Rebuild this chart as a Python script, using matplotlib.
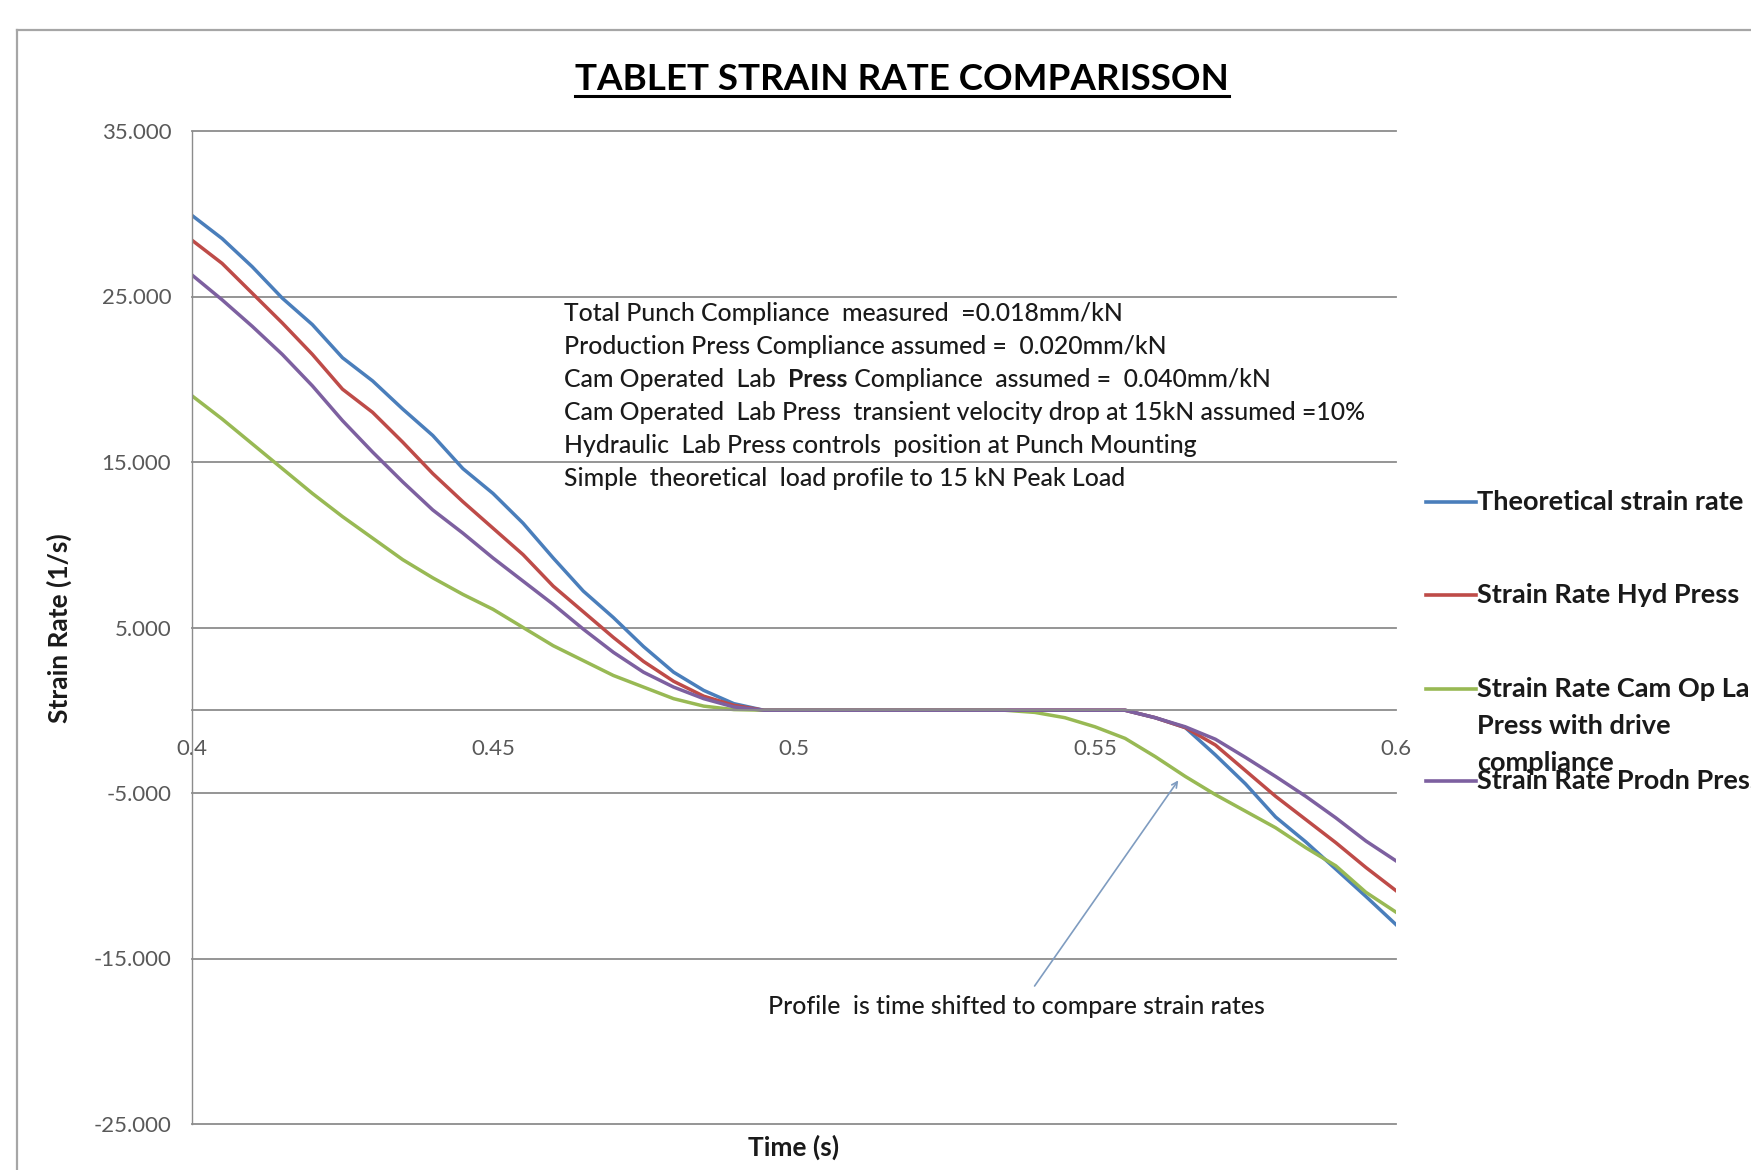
import matplotlib
matplotlib.use("Agg")
import matplotlib.pyplot as plt
from matplotlib.lines import Line2D

plt.rcParams['font.family'] = ['Lato', 'DejaVu Sans']

# ---- data ----
time = [0.400, 0.405, 0.410, 0.415, 0.420, 0.425, 0.430, 0.435, 0.440, 0.445,
        0.450, 0.455, 0.460, 0.465, 0.470, 0.475, 0.480, 0.485, 0.490, 0.495,
        0.500, 0.505, 0.510, 0.515, 0.520, 0.525, 0.530, 0.535, 0.540, 0.545,
        0.550, 0.555, 0.560, 0.565, 0.570, 0.575, 0.580, 0.585, 0.590, 0.595,
        0.600]

theoretical = [29.9, 28.5, 26.8, 24.9, 23.3, 21.3, 19.9, 18.2, 16.6, 14.6,
               13.1, 11.3, 9.2, 7.2, 5.6, 3.85, 2.3, 1.2, 0.4, 0.0,
               0.0, 0.0, 0.0, 0.0, 0.0, 0.0, 0.0, 0.0, 0.0, 0.0,
               0.0, 0.0, -0.45, -1.05, -2.7, -4.45, -6.45, -7.95, -9.6, -11.25,
               -12.95]
hyd_press = [28.4, 27.0, 25.2, 23.4, 21.5, 19.4, 18.0, 16.2, 14.3, 12.6,
             11.0, 9.4, 7.5, 5.95, 4.4, 2.95, 1.75, 0.85, 0.3, 0.0,
             0.0, 0.0, 0.0, 0.0, 0.0, 0.0, 0.0, 0.0, 0.0, 0.0,
             0.0, 0.0, -0.45, -1.05, -2.1, -3.65, -5.2, -6.6, -8.0, -9.5,
             -10.9]
cam_press = [19.0, 17.6, 16.1, 14.6, 13.1, 11.7, 10.4, 9.1, 8.0, 7.0,
             6.1, 5.0, 3.9, 3.0, 2.1, 1.4, 0.7, 0.25, 0.04, 0.0,
             0.0, 0.0, 0.0, 0.0, 0.0, 0.0, 0.0, 0.0, -0.13, -0.45,
             -1.0, -1.7, -2.8, -4.0, -5.1, -6.1, -7.1, -8.3, -9.4, -11.0,
             -12.2]
prodn_press = [26.3, 24.8, 23.2, 21.5, 19.6, 17.5, 15.6, 13.8, 12.1, 10.7,
               9.2, 7.8, 6.4, 4.9, 3.5, 2.3, 1.4, 0.7, 0.2, 0.0,
               0.0, 0.0, 0.0, 0.0, 0.0, 0.0, 0.0, 0.0, 0.0, 0.0,
               0.0, 0.0, -0.45, -1.0, -1.75, -2.85, -4.0, -5.2, -6.5, -7.9,
               -9.1]

series = [theoretical, hyd_press, cam_press, prodn_press]
labels = ["Theoretical strain rate",
          "Strain Rate Hyd Press",
          "Strain Rate Cam Op Lab\nPress with drive\ncompliance",
          "Strain Rate Prodn Press"]
colors = ["#4a7ebb", "#be4b48", "#98b954", "#7d60a0"]

xticks = [0.4, 0.45, 0.5, 0.55, 0.6]
xticklabels = ["0.4", "0.45", "0.5", "0.55", "0.6"]
yticks = [-25, -15, -5, 5, 15, 25, 35]
yticklabels = ["-25.000", "-15.000", "-5.000", "5.000", "15.000", "25.000", "35.000"]

notes = ["Total Punch Compliance  measured  =0.018mm/kN",
         "Production Press Compliance assumed =  0.020mm/kN",
         None,  # line with bold word, drawn in pieces
         "Cam Operated  Lab Press  transient velocity drop at 15kN assumed =10%",
         "Hydraulic  Lab Press controls  position at Punch Mounting",
         "Simple  theoretical  load profile to 15 kN Peak Load"]

W, H = 1751, 1170
fig = plt.figure(figsize=(W / 100, H / 100), dpi=100)
fig.patch.set_facecolor("white")

ax = fig.add_axes([192 / W, 1 - 1124 / H, (1396 - 192) / W, (1124 - 131) / H])
for s, c in zip(series, colors):
    ax.plot(time, s, color=c, lw=2.5, solid_joinstyle="round")

ax.set_xlim(0.4, 0.6)
ax.set_ylim(-25, 35)
ax.set_yticks(yticks)
ax.set_yticklabels(yticklabels)
ax.set_xticks(xticks)
ax.set_xticklabels(xticklabels)

grey = "#8c8c8c"
ax.yaxis.grid(True, color=grey, lw=1.3)
for gl in ax.get_ygridlines():
    gl.set_clip_on(False)
ax.xaxis.grid(False)
for side in ["top", "right"]:
    ax.spines[side].set_visible(False)
ax.spines["bottom"].set_position(("data", 0))
ax.spines["bottom"].set_color(grey)
ax.spines["bottom"].set_linewidth(1.3)
ax.spines["left"].set_color(grey)
ax.spines["left"].set_linewidth(1.0)
ax.tick_params(axis="both", length=0, labelcolor="#595959", labelsize=16)
ax.tick_params(axis="y", pad=15)
ax.tick_params(axis="x", pad=21)

txt_col = "#1a1a1a"

# axis titles
fig.text(59 / W, 1 - 628 / H, "Strain Rate (1/s)", rotation=90, ha="center", va="center",
         fontsize=19, fontweight="bold", color=txt_col)
fig.text(794 / W, 1 - 1147 / H, "Time (s)", ha="center", va="center",
         fontsize=19, fontweight="bold", color=txt_col)

# chart title, underlined
title = fig.text(902 / W, 1 - 90 / H, "TABLET STRAIN RATE COMPARISSON", ha="center",
                 va="baseline", fontsize=26.5, fontweight="bold", color="black")
fig.canvas.draw()
bb = title.get_window_extent()
fig.add_artist(Line2D([bb.x0 / W, bb.x1 / W], [1 - 96 / H, 1 - 96 / H], color="black", lw=2.2))

# outer chart border
fig.add_artist(Line2D([17 / W, 1.0], [1 - 30 / H, 1 - 30 / H], color="#a6a6a6", lw=1.6))
fig.add_artist(Line2D([17 / W, 17 / W], [0.0, 1 - 30 / H], color="#a6a6a6", lw=1.6))

# notes block
nfs = 17.8
note_kw = dict(fontsize=nfs, color=txt_col, va="center", ha="left", fontweight="medium")
x0 = 0.4618
ys = [24.0, 22.0, 20.0, 18.0, 16.0, 14.0]
for line, y in zip(notes, ys):
    if line is not None:
        ax.text(x0, y, line, **note_kw)
    else:
        t1 = ax.text(x0, y, "Cam Operated  Lab  ", **note_kw)
        t2 = ax.annotate("Press", xycoords=t1, xy=(1, 0), va="bottom", fontsize=nfs,
                         color=txt_col, fontweight="bold")
        ax.annotate(" Compliance  assumed =  0.040mm/kN", xycoords=t2, xy=(1, 0),
                    va="bottom", fontsize=nfs, color=txt_col, fontweight="medium")

# arrow annotation
ax.annotate("", xy=(0.5641, -4.1), xytext=(0.5397, -16.8),
            arrowprops=dict(arrowstyle="->", color="#7f9cc0", lw=1.2))
ax.text(0.5369, -17.9, "Profile  is time shifted to compare strain rates", ha="center",
        va="center", fontsize=17.8, color=txt_col, fontweight="medium")

# legend drawn at the right (the reference runs past the right edge)
leg_y = [502, 595, 689, 781]
dy = 37
for lab, c, yp in zip(labels, colors, leg_y):
    fy = 1 - yp / H
    fig.add_artist(Line2D([1426 / W, 1476 / W], [fy, fy], color=c, lw=2.6))
    for j, part in enumerate(lab.split("\n")):
        fig.text(1477 / W, 1 - (yp + j * dy) / H, part, ha="left", va="center",
                 fontsize=19.5, fontweight="bold", color=txt_col)

fig.savefig("out.png", dpi=100, facecolor="white")
